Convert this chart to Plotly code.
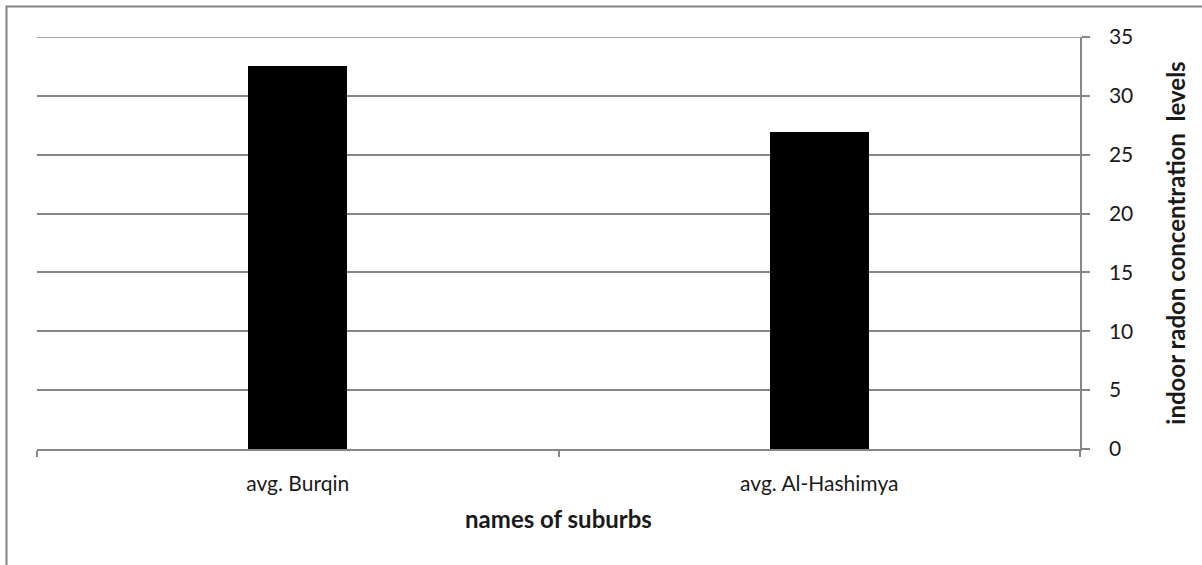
import plotly.graph_objects as go

# Average indoor radon concentration per suburb
suburbs = ["avg. Burqin", "avg. Al-Hashimya"]
radon_levels = [32.5, 26.9]
y_ticks = [0, 5, 10, 15, 20, 25, 30, 35]

W, H = 1202, 565
L, R, T, B = 37, 122, 37, 116
GRID = "#868686"
FONT = "Lato, Calibri, 'Liberation Sans', sans-serif"

fig = go.Figure(
    go.Bar(
        x=suburbs,
        y=radon_levels,
        marker=dict(color="black", line=dict(width=0)),
        width=0.19,
    )
)

fig.update_layout(
    width=W,
    height=H,
    margin=dict(l=L, r=R, t=T, b=B),
    paper_bgcolor="white",
    plot_bgcolor="white",
    showlegend=False,
    font=dict(family=FONT, size=21, color="#1a1a1a"),
    bargap=0,
)

fig.update_xaxes(
    showline=True,
    linecolor=GRID,
    linewidth=1.5,
    ticks="outside",
    tickson="boundaries",
    ticklen=6,
    tickcolor=GRID,
    tickwidth=1.5,
    showgrid=False,
    ticklabelstandoff=15,
    title=dict(text="<b>names of suburbs</b>", font=dict(size=24), standoff=17),
)

fig.update_yaxes(
    side="right",
    range=[0, 35],
    tickvals=y_ticks,
    showline=True,
    linecolor=GRID,
    linewidth=1.5,
    ticks="outside",
    ticklen=8,
    tickcolor=GRID,
    tickwidth=1.5,
    showgrid=True,
    gridcolor=GRID,
    gridwidth=1.5,
    zeroline=False,
    ticklabelstandoff=15,
    title=dict(text="<b>indoor radon concentration  levels</b>", font=dict(size=24), standoff=36),
)

# Top gridline at the upper end of the value axis
fig.add_hline(y=y_ticks[-1], line=dict(color=GRID, width=1.5), layer="below")

# Outer chart frame (left and top edges fall inside the page)
fig.add_shape(
    type="rect",
    xref="paper", yref="paper",
    x0=-(L - 6.5) / (W - L - R),
    x1=1 + (R + 20) / (W - L - R),
    y0=-(B + 20) / (H - T - B),
    y1=1 + (T - 6.5) / (H - T - B),
    line=dict(color=GRID, width=2),
    fillcolor="rgba(0,0,0,0)",
    layer="below",
)

fig.write_html("out.html")
